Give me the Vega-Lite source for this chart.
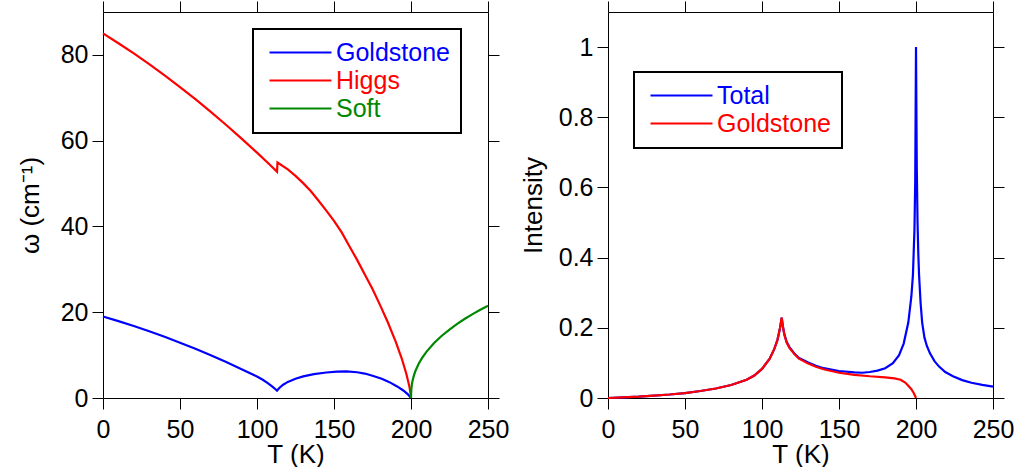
{
  "$schema": "https://vega.github.io/schema/vega-lite/v6.json",
  "background": "white",
  "padding": {"left": 17, "top": 0, "right": 0, "bottom": 0},
  "spacing": 120,
  "bounds": "flush",
  "config": {
    "font": "Liberation Sans",
    "view": {"stroke": null},
    "axis": {
      "grid": false,
      "domainColor": "black",
      "tickColor": "black",
      "tickSize": 11,
      "tickWidth": 1,
      "domainWidth": 1,
      "labelFontSize": 25,
      "titleFontSize": 26,
      "labelColor": "black",
      "titleColor": "black",
      "titleFontWeight": "normal",
      "labelFont": "Liberation Sans",
      "titleFont": "Liberation Sans",
      "labelFlush": false
    },
    "legend": {
      "labelFont": "Liberation Sans",
      "labelFontSize": 25,
      "labelColor": "black"
    }
  },
  "resolve": {"scale": {"color": "independent"}, "legend": {"color": "independent"}},
  "datasets": {
    "omega": [
      {"T": 0, "w": 19.0, "mode": "Goldstone"},
      {"T": 10, "w": 17.92, "mode": "Goldstone"},
      {"T": 20, "w": 16.78, "mode": "Goldstone"},
      {"T": 30, "w": 15.56, "mode": "Goldstone"},
      {"T": 40, "w": 14.26, "mode": "Goldstone"},
      {"T": 50, "w": 12.9, "mode": "Goldstone"},
      {"T": 60, "w": 11.46, "mode": "Goldstone"},
      {"T": 70, "w": 9.96, "mode": "Goldstone"},
      {"T": 80, "w": 8.38, "mode": "Goldstone"},
      {"T": 90, "w": 6.72, "mode": "Goldstone"},
      {"T": 100, "w": 5.0, "mode": "Goldstone"},
      {"T": 104, "w": 4.2, "mode": "Goldstone"},
      {"T": 107, "w": 3.45, "mode": "Goldstone"},
      {"T": 110, "w": 2.65, "mode": "Goldstone"},
      {"T": 112, "w": 2.05, "mode": "Goldstone"},
      {"T": 113, "w": 1.7, "mode": "Goldstone"},
      {"T": 114, "w": 2.15, "mode": "Goldstone"},
      {"T": 115, "w": 2.5, "mode": "Goldstone"},
      {"T": 117, "w": 3.1, "mode": "Goldstone"},
      {"T": 120, "w": 3.75, "mode": "Goldstone"},
      {"T": 125, "w": 4.5, "mode": "Goldstone"},
      {"T": 130, "w": 5.05, "mode": "Goldstone"},
      {"T": 137, "w": 5.55, "mode": "Goldstone"},
      {"T": 145, "w": 5.95, "mode": "Goldstone"},
      {"T": 152, "w": 6.15, "mode": "Goldstone"},
      {"T": 158, "w": 6.2, "mode": "Goldstone"},
      {"T": 165, "w": 6.0, "mode": "Goldstone"},
      {"T": 170, "w": 5.7, "mode": "Goldstone"},
      {"T": 175, "w": 5.2, "mode": "Goldstone"},
      {"T": 181, "w": 4.5, "mode": "Goldstone"},
      {"T": 186, "w": 3.7, "mode": "Goldstone"},
      {"T": 191, "w": 2.7, "mode": "Goldstone"},
      {"T": 195, "w": 1.75, "mode": "Goldstone"},
      {"T": 198, "w": 0.85, "mode": "Goldstone"},
      {"T": 200, "w": 0, "mode": "Goldstone"},
      {"T": 0, "w": 85.0, "mode": "Higgs"},
      {"T": 10, "w": 82.72, "mode": "Higgs"},
      {"T": 20, "w": 80.34, "mode": "Higgs"},
      {"T": 30, "w": 77.84, "mode": "Higgs"},
      {"T": 40, "w": 75.22, "mode": "Higgs"},
      {"T": 50, "w": 72.5, "mode": "Higgs"},
      {"T": 60, "w": 69.66, "mode": "Higgs"},
      {"T": 70, "w": 66.72, "mode": "Higgs"},
      {"T": 80, "w": 63.66, "mode": "Higgs"},
      {"T": 90, "w": 60.48, "mode": "Higgs"},
      {"T": 100, "w": 57.2, "mode": "Higgs"},
      {"T": 108, "w": 54.49, "mode": "Higgs"},
      {"T": 113, "w": 52.76, "mode": "Higgs"},
      {"T": 113.3, "w": 54.9, "mode": "Higgs"},
      {"T": 120, "w": 53.3, "mode": "Higgs"},
      {"T": 125, "w": 51.8, "mode": "Higgs"},
      {"T": 130, "w": 50.1, "mode": "Higgs"},
      {"T": 135, "w": 48.2, "mode": "Higgs"},
      {"T": 140, "w": 46.0, "mode": "Higgs"},
      {"T": 145, "w": 43.7, "mode": "Higgs"},
      {"T": 150, "w": 41.3, "mode": "Higgs"},
      {"T": 155, "w": 38.6, "mode": "Higgs"},
      {"T": 160, "w": 35.4, "mode": "Higgs"},
      {"T": 165, "w": 32.2, "mode": "Higgs"},
      {"T": 170, "w": 28.8, "mode": "Higgs"},
      {"T": 175, "w": 25.4, "mode": "Higgs"},
      {"T": 180, "w": 21.6, "mode": "Higgs"},
      {"T": 185, "w": 17.6, "mode": "Higgs"},
      {"T": 190, "w": 13.2, "mode": "Higgs"},
      {"T": 194, "w": 9.2, "mode": "Higgs"},
      {"T": 197, "w": 5.6, "mode": "Higgs"},
      {"T": 199, "w": 2.6, "mode": "Higgs"},
      {"T": 199.7, "w": 1.1, "mode": "Higgs"},
      {"T": 200, "w": 0, "mode": "Higgs"},
      {"T": 200, "w": 0, "mode": "Soft"},
      {"T": 200.2, "w": 2.0, "mode": "Soft"},
      {"T": 200.5, "w": 2.97, "mode": "Soft"},
      {"T": 201, "w": 4.0, "mode": "Soft"},
      {"T": 202, "w": 5.39, "mode": "Soft"},
      {"T": 203, "w": 6.42, "mode": "Soft"},
      {"T": 205, "w": 7.99, "mode": "Soft"},
      {"T": 207, "w": 9.24, "mode": "Soft"},
      {"T": 210, "w": 10.77, "mode": "Soft"},
      {"T": 215, "w": 12.82, "mode": "Soft"},
      {"T": 220, "w": 14.51, "mode": "Soft"},
      {"T": 225, "w": 15.96, "mode": "Soft"},
      {"T": 230, "w": 17.27, "mode": "Soft"},
      {"T": 235, "w": 18.47, "mode": "Soft"},
      {"T": 240, "w": 19.55, "mode": "Soft"},
      {"T": 245, "w": 20.56, "mode": "Soft"},
      {"T": 250, "w": 21.5, "mode": "Soft"}
    ],
    "intensity": [
      {"T": 0, "I": 0, "mode": "Total"},
      {"T": 10, "I": 0.002, "mode": "Total"},
      {"T": 20, "I": 0.004, "mode": "Total"},
      {"T": 30, "I": 0.007, "mode": "Total"},
      {"T": 40, "I": 0.010, "mode": "Total"},
      {"T": 50, "I": 0.014, "mode": "Total"},
      {"T": 60, "I": 0.020, "mode": "Total"},
      {"T": 70, "I": 0.027, "mode": "Total"},
      {"T": 80, "I": 0.037, "mode": "Total"},
      {"T": 90, "I": 0.052, "mode": "Total"},
      {"T": 95, "I": 0.064, "mode": "Total"},
      {"T": 100, "I": 0.083, "mode": "Total"},
      {"T": 105, "I": 0.112, "mode": "Total"},
      {"T": 108, "I": 0.140, "mode": "Total"},
      {"T": 110, "I": 0.165, "mode": "Total"},
      {"T": 111.5, "I": 0.195, "mode": "Total"},
      {"T": 112.8, "I": 0.229, "mode": "Total"},
      {"T": 113.5, "I": 0.206, "mode": "Total"},
      {"T": 114.5, "I": 0.182, "mode": "Total"},
      {"T": 116, "I": 0.160, "mode": "Total"},
      {"T": 117.8, "I": 0.145, "mode": "Total"},
      {"T": 121, "I": 0.127, "mode": "Total"},
      {"T": 124, "I": 0.114, "mode": "Total"},
      {"T": 130, "I": 0.101, "mode": "Total"},
      {"T": 135, "I": 0.092, "mode": "Total"},
      {"T": 140, "I": 0.085, "mode": "Total"},
      {"T": 150, "I": 0.077, "mode": "Total"},
      {"T": 160, "I": 0.073, "mode": "Total"},
      {"T": 165, "I": 0.072, "mode": "Total"},
      {"T": 170, "I": 0.074, "mode": "Total"},
      {"T": 175, "I": 0.078, "mode": "Total"},
      {"T": 180, "I": 0.085, "mode": "Total"},
      {"T": 185, "I": 0.099, "mode": "Total"},
      {"T": 189, "I": 0.122, "mode": "Total"},
      {"T": 192, "I": 0.155, "mode": "Total"},
      {"T": 195, "I": 0.215, "mode": "Total"},
      {"T": 197, "I": 0.29, "mode": "Total"},
      {"T": 198, "I": 0.35, "mode": "Total"},
      {"T": 199, "I": 0.48, "mode": "Total"},
      {"T": 199.5, "I": 0.62, "mode": "Total"},
      {"T": 200, "I": 1.0, "mode": "Total"},
      {"T": 200.5, "I": 0.66, "mode": "Total"},
      {"T": 201, "I": 0.5, "mode": "Total"},
      {"T": 201.5, "I": 0.41, "mode": "Total"},
      {"T": 202, "I": 0.35, "mode": "Total"},
      {"T": 203, "I": 0.27, "mode": "Total"},
      {"T": 204, "I": 0.215, "mode": "Total"},
      {"T": 205.5, "I": 0.172, "mode": "Total"},
      {"T": 207, "I": 0.149, "mode": "Total"},
      {"T": 209, "I": 0.128, "mode": "Total"},
      {"T": 212, "I": 0.105, "mode": "Total"},
      {"T": 215, "I": 0.0895, "mode": "Total"},
      {"T": 219, "I": 0.074, "mode": "Total"},
      {"T": 224, "I": 0.062, "mode": "Total"},
      {"T": 230, "I": 0.051, "mode": "Total"},
      {"T": 236, "I": 0.0435, "mode": "Total"},
      {"T": 243, "I": 0.0372, "mode": "Total"},
      {"T": 250, "I": 0.0324, "mode": "Total"},
      {"T": 0, "I": 0, "mode": "Goldstone"},
      {"T": 10, "I": 0.002, "mode": "Goldstone"},
      {"T": 20, "I": 0.004, "mode": "Goldstone"},
      {"T": 30, "I": 0.007, "mode": "Goldstone"},
      {"T": 40, "I": 0.010, "mode": "Goldstone"},
      {"T": 50, "I": 0.014, "mode": "Goldstone"},
      {"T": 60, "I": 0.020, "mode": "Goldstone"},
      {"T": 70, "I": 0.027, "mode": "Goldstone"},
      {"T": 80, "I": 0.037, "mode": "Goldstone"},
      {"T": 90, "I": 0.052, "mode": "Goldstone"},
      {"T": 95, "I": 0.064, "mode": "Goldstone"},
      {"T": 100, "I": 0.083, "mode": "Goldstone"},
      {"T": 105, "I": 0.112, "mode": "Goldstone"},
      {"T": 108, "I": 0.140, "mode": "Goldstone"},
      {"T": 110, "I": 0.165, "mode": "Goldstone"},
      {"T": 111.5, "I": 0.195, "mode": "Goldstone"},
      {"T": 112.8, "I": 0.229, "mode": "Goldstone"},
      {"T": 113.5, "I": 0.205, "mode": "Goldstone"},
      {"T": 114.5, "I": 0.180, "mode": "Goldstone"},
      {"T": 116, "I": 0.158, "mode": "Goldstone"},
      {"T": 117.8, "I": 0.143, "mode": "Goldstone"},
      {"T": 121, "I": 0.125, "mode": "Goldstone"},
      {"T": 124, "I": 0.112, "mode": "Goldstone"},
      {"T": 130, "I": 0.098, "mode": "Goldstone"},
      {"T": 135, "I": 0.089, "mode": "Goldstone"},
      {"T": 140, "I": 0.082, "mode": "Goldstone"},
      {"T": 150, "I": 0.072, "mode": "Goldstone"},
      {"T": 160, "I": 0.066, "mode": "Goldstone"},
      {"T": 170, "I": 0.062, "mode": "Goldstone"},
      {"T": 180, "I": 0.059, "mode": "Goldstone"},
      {"T": 186, "I": 0.056, "mode": "Goldstone"},
      {"T": 190, "I": 0.052, "mode": "Goldstone"},
      {"T": 193, "I": 0.044, "mode": "Goldstone"},
      {"T": 195, "I": 0.035, "mode": "Goldstone"},
      {"T": 197, "I": 0.025, "mode": "Goldstone"},
      {"T": 198.7, "I": 0.013, "mode": "Goldstone"},
      {"T": 200, "I": 0, "mode": "Goldstone"}
    ]
  },
  "hconcat": [
    {
      "width": 385,
      "height": 386,
      "data": {"name": "omega"},
      "layer": [
        {
          "mark": {"type": "line", "strokeWidth": 2.2},
          "encoding": {
            "x": {
              "field": "T", "type": "quantitative",
              "scale": {"domain": [0, 250], "nice": false},
              "axis": {"orient": "bottom", "values": [0, 50, 100, 150, 200, 250], "title": "T (K)", "labelPadding": 8, "titlePadding": -1}
            },
            "y": {
              "field": "w", "type": "quantitative",
              "scale": {"domain": [0, 90], "nice": false},
              "axis": {"orient": "left", "values": [0, 20, 40, 60, 80], "title": "ω (cm⁻¹)", "labelPadding": 4, "titlePadding": 17}
            },
            "color": {
              "field": "mode", "type": "nominal",
              "scale": {"domain": ["Goldstone", "Higgs", "Soft"], "range": ["#0000ff", "#ff0000", "#008800"]},
              "legend": {
                "orient": "none", "legendX": 150, "legendY": 17,
                "title": null,
                "symbolType": "M-4,0H4", "symbolSize": 240, "symbolStrokeWidth": 2, "symbolOffset": 24,
                "labelOffset": 23, "padding": 11, "rowPadding": 2,
                "strokeColor": "black", "fillColor": "white",
                "encode": {
                  "labels": {"update": {"fill": {"signal": "datum.value === 'Goldstone' ? '#0000ff' : datum.value === 'Higgs' ? '#ff0000' : '#008800'"}}},
                  "legend": {"update": {"strokeWidth": {"value": 2}}}
                }
              }
            }
          }
        },
        {
          "mark": {"type": "line", "opacity": 0},
          "encoding": {
            "x": {
              "field": "T", "type": "quantitative",
              "scale": {"domain": [0, 250], "nice": false},
              "axis": {"orient": "top", "values": [0, 50, 100, 150, 200, 250], "labels": false, "title": null}
            },
            "y": {
              "field": "w", "type": "quantitative",
              "scale": {"domain": [0, 90], "nice": false},
              "axis": {"orient": "right", "values": [0, 20, 40, 60, 80], "labels": false, "title": null}
            },
            "detail": {"field": "mode"}
          }
        }
      ],
      "resolve": {"axis": {"x": "independent", "y": "independent"}}
    },
    {
      "width": 385,
      "height": 386,
      "data": {"name": "intensity"},
      "layer": [
        {
          "transform": [{"filter": "datum.mode === 'Total'"}],
          "mark": {"type": "line", "strokeWidth": 2.2},
          "encoding": {
            "x": {
              "field": "T", "type": "quantitative",
              "scale": {"domain": [0, 250], "nice": false},
              "axis": {"orient": "bottom", "values": [0, 50, 100, 150, 200, 250], "title": "T (K)", "labelPadding": 8, "titlePadding": -1}
            },
            "y": {
              "field": "I", "type": "quantitative",
              "scale": {"domain": [0, 1.1], "nice": false},
              "axis": {"orient": "left", "values": [0, 0.2, 0.4, 0.6, 0.8, 1], "format": ".1~f", "title": "Intensity", "labelPadding": 4, "titlePadding": 12}
            },
            "color": {
              "field": "mode", "type": "nominal",
              "scale": {"domain": ["Total", "Goldstone"], "range": ["#0000ff", "#ff0000"]},
              "legend": {
                "orient": "none", "legendX": 26, "legendY": 60,
                "title": null,
                "symbolType": "M-4,0H4", "symbolSize": 240, "symbolStrokeWidth": 2, "symbolOffset": 24,
                "labelOffset": 23, "padding": 11, "rowPadding": 2,
                "strokeColor": "black", "fillColor": "white",
                "encode": {
                  "labels": {"update": {"fill": {"signal": "datum.value === 'Total' ? '#0000ff' : '#ff0000'"}}},
                  "legend": {"update": {"strokeWidth": {"value": 2}}}
                }
              }
            }
          }
        },
        {
          "transform": [{"filter": "datum.mode === 'Goldstone'"}],
          "mark": {"type": "line", "strokeWidth": 2.2},
          "encoding": {
            "x": {"field": "T", "type": "quantitative", "scale": {"domain": [0, 250], "nice": false}, "axis": null},
            "y": {"field": "I", "type": "quantitative", "scale": {"domain": [0, 1.1], "nice": false}, "axis": null},
            "color": {"field": "mode", "type": "nominal"}
          }
        },
        {
          "mark": {"type": "line", "opacity": 0},
          "encoding": {
            "x": {
              "field": "T", "type": "quantitative",
              "scale": {"domain": [0, 250], "nice": false},
              "axis": {"orient": "top", "values": [0, 50, 100, 150, 200, 250], "labels": false, "title": null}
            },
            "y": {
              "field": "I", "type": "quantitative",
              "scale": {"domain": [0, 1.1], "nice": false},
              "axis": {"orient": "right", "values": [0, 0.2, 0.4, 0.6, 0.8, 1], "labels": false, "title": null}
            },
            "detail": {"field": "mode"}
          }
        }
      ],
      "resolve": {"axis": {"x": "independent", "y": "independent"}}
    }
  ]
}
